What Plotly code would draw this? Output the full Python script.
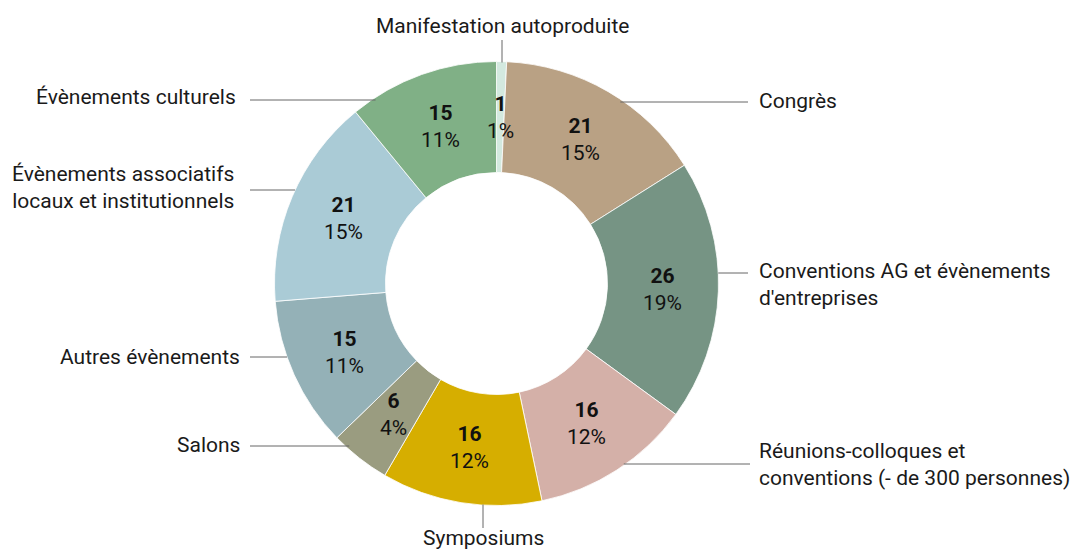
import math
import plotly.graph_objects as go

categories = [
    "Manifestation autoproduite",
    "Congrès",
    "Conventions AG et évènements<br>d'entreprises",
    "Réunions-colloques et<br>conventions (- de 300 personnes)",
    "Symposiums",
    "Salons",
    "Autres évènements",
    "Évènements associatifs<br>locaux et institutionnels",
    "Évènements culturels",
]
values = [1, 21, 26, 16, 16, 6, 15, 21, 15]
colors = ["#d3e9df", "#b9a184", "#769484", "#d4b0a8", "#d6ae00",
          "#9a9c80", "#94b1b7", "#aacbd6", "#80b086"]

W, H = 1076, 551
CX, CY, R = 496.5, 283.5, 222
HOLE = 0.5
FONT = "Roboto, sans-serif"
TXT = "#1a1a1a"

def px(x):
    return x / W

def py(y):
    return 1 - y / H

fig = go.Figure(go.Pie(
    values=values,
    labels=categories,
    sort=False,
    direction="clockwise",
    rotation=0,
    hole=HOLE,
    marker=dict(colors=colors, line=dict(color="white", width=0.8)),
    textinfo="none",
    hoverinfo="label+value+percent",
    showlegend=False,
    domain=dict(x=[px(CX - R), px(CX + R)], y=[py(CY + R), py(CY - R)]),
))

total = sum(values)
annotations = []
cum = 0
rmid = R * (1 + HOLE) / 2
for v in values:
    mid = (cum + v / 2) / total * 2 * math.pi
    cum += v
    x = CX + rmid * math.sin(mid)
    y = CY - rmid * math.cos(mid)
    pct = round(v / total * 100)
    annotations.append(dict(
        x=px(x), y=py(y), xref="paper", yref="paper",
        xanchor="center", yanchor="middle",
        text=f"<b>{v}</b><br>{pct}%", showarrow=False,
        font=dict(family=FONT, size=21, color="#111"),
        align="center",
    ))

# outside labels: (category index, label x, label y, anchor)
label_pos = [
    (0, 502, 26, "center"),
    (1, 757, 101, "left"),
    (2, 757, 284, "left"),
    (3, 757, 464, "left"),
    (4, 483, 538, "center"),
    (5, 242, 445, "right"),
    (6, 242, 357, "right"),
    (7, 236, 187, "right"),
    (8, 238, 97, "right"),
]
for idx, lx, ly, anc in label_pos:
    annotations.append(dict(
        x=px(lx), y=py(ly), xref="paper", yref="paper",
        text=categories[idx], showarrow=False, xanchor=anc, yanchor="middle",
        font=dict(family=FONT, size=21, color=TXT),
        align="left" if anc == "left" else ("right" if anc == "right" else "center"),
    ))

shapes = []
def circle_x(y, side):
    dy = y - CY
    dx = math.sqrt(max(R * R - dy * dy, 0))
    return CX + side * dx

def hline(y, x0, x1):
    shapes.append(dict(type="line", xref="paper", yref="paper",
                       x0=px(x0), x1=px(x1), y0=py(y), y1=py(y),
                       line=dict(color="#666", width=1)))

def vline(x, y0, y1):
    shapes.append(dict(type="line", xref="paper", yref="paper",
                       x0=px(x), x1=px(x), y0=py(y0), y1=py(y1),
                       line=dict(color="#666", width=1)))

vline(502, 40, CY - R + 1)
hline(102, circle_x(102, 1) - 4, 748)
hline(273, circle_x(273, 1), 748)
hline(464, circle_x(464, 1) - 2, 750)
vline(483, CY + R - 1, 528)
hline(446, 250, circle_x(446, -1) + 4)
hline(357, 250, circle_x(357, -1))
hline(190, 250, circle_x(190, -1))
hline(100, 250, circle_x(100, -1) + 4)

fig.update_layout(
    width=W, height=H,
    margin=dict(l=0, r=0, t=0, b=0),
    paper_bgcolor="white", plot_bgcolor="white",
    annotations=annotations, shapes=shapes,
    font=dict(family=FONT),
)

fig.write_html("out.html", config={"displayModeBar": False},
               post_script="document.body.style.margin='0';")
